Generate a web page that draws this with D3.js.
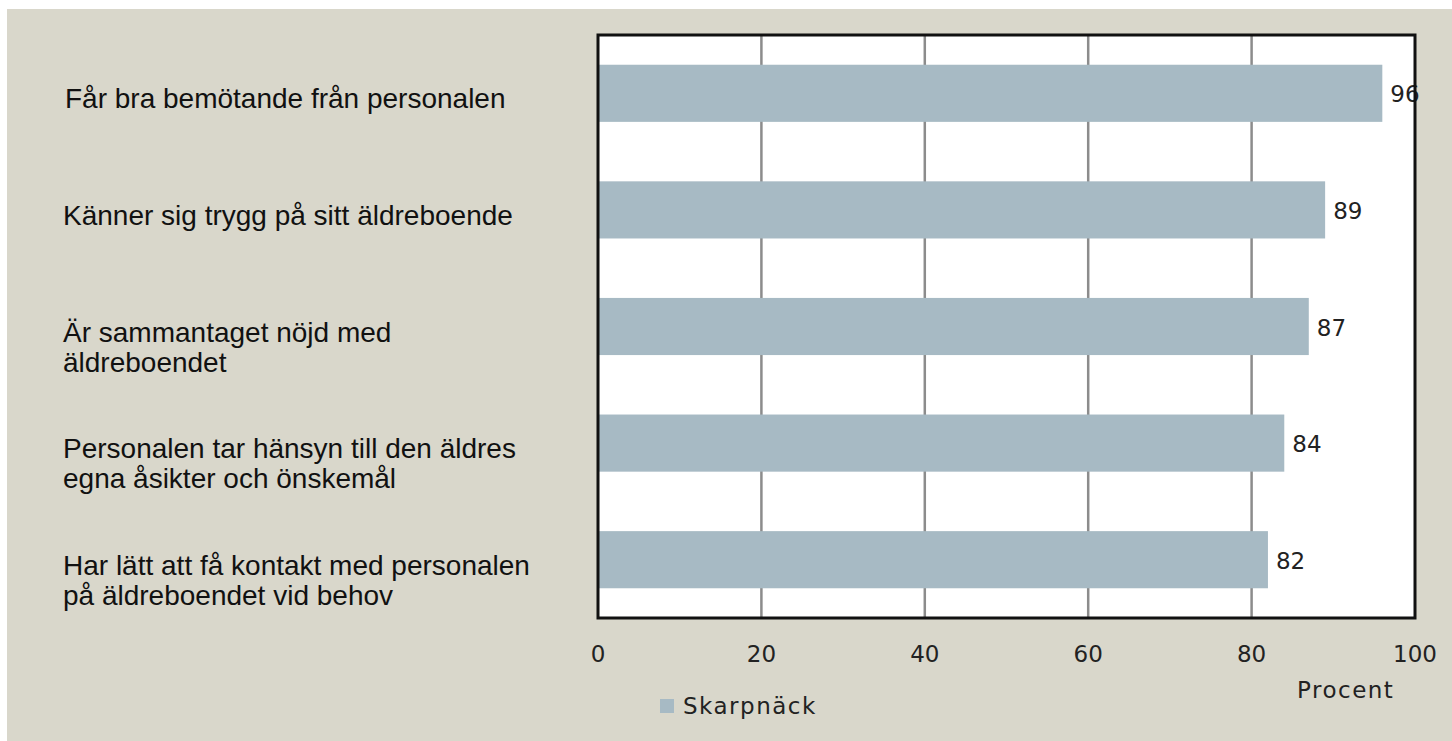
<!DOCTYPE html>
<html>
<head>
<meta charset="utf-8">
<script src="https://cdn.jsdelivr.net/npm/d3@7"></script>
<style>
  html, body { margin: 0; padding: 0; background: #fff; }
  svg { display: block; }
</style>
</head>
<body>
<div id="svg-container"></div>
<script>
// data
const categories = [
  ['Får bra bemötande från personalen'],
  ['Känner sig trygg på sitt äldreboende'],
  ['Är sammantaget nöjd med', 'äldreboendet'],
  ['Personalen tar hänsyn till den äldres', 'egna åsikter och önskemål'],
  ['Har lätt att få kontakt med personalen', 'på äldreboendet vid behov'],
]
const values = [96, 89, 87, 84, 82]
const xTicks = [0, 20, 40, 60, 80, 100]
const seriesName = 'Skarpnäck'
const axisTitle = 'Procent'

;(function () {
  const svgWidth = 1452
  const svgHeight = 741
  const plot = { left: 598, top: 35, right: 1415, bottom: 618 }

  const bgColor = '#d9d7cb'
  const barColor = '#a7bac4'
  const pixelFont = '"DejaVu Sans", sans-serif'
  const pixelSize = 23

  const svg = d3
    .select('#svg-container')
    .append('svg')
    .attr('width', svgWidth)
    .attr('height', svgHeight)

  svg
    .append('rect')
    .attr('x', 7)
    .attr('y', 9)
    .attr('width', svgWidth - 7)
    .attr('height', svgHeight - 9)
    .attr('fill', bgColor)

  const x = d3.scaleLinear().domain([0, 100]).range([plot.left, plot.right])
  const y = d3
    .scaleBand()
    .domain(d3.range(values.length))
    .range([plot.top, plot.bottom])
    .paddingInner(0.51)
    .paddingOuter(0.255)

  // plot area
  svg
    .append('rect')
    .attr('x', plot.left)
    .attr('y', plot.top)
    .attr('width', plot.right - plot.left)
    .attr('height', plot.bottom - plot.top)
    .attr('fill', '#fff')

  // vertical grid
  svg
    .append('g')
    .selectAll('line')
    .data(xTicks.slice(1, -1))
    .join('line')
    .attr('x1', d => x(d))
    .attr('x2', d => x(d))
    .attr('y1', plot.top)
    .attr('y2', plot.bottom)
    .attr('stroke', '#8c8c8c')
    .attr('stroke-width', 2.5)

  // bars
  svg
    .append('g')
    .selectAll('rect')
    .data(values)
    .join('rect')
    .attr('x', x(0))
    .attr('y', (d, i) => y(i))
    .attr('width', d => x(d) - x(0))
    .attr('height', y.bandwidth())
    .attr('fill', barColor)

  // value labels
  svg
    .append('g')
    .selectAll('text')
    .data(values)
    .join('text')
    .attr('x', d => x(d) + 8)
    .attr('y', (d, i) => y(i) + y.bandwidth() / 2 + 9)
    .attr('font-family', pixelFont)
    .attr('font-size', pixelSize)
    .attr('fill', '#222')
    .text(d => d)

  // frame
  svg
    .append('rect')
    .attr('x', plot.left)
    .attr('y', plot.top)
    .attr('width', plot.right - plot.left)
    .attr('height', plot.bottom - plot.top)
    .attr('fill', 'none')
    .attr('stroke', '#111')
    .attr('stroke-width', 3)

  // category labels
  const labels = svg
    .append('g')
    .attr('font-family', '"Liberation Sans", Arial, sans-serif')
    .attr('font-size', 28)
    .attr('fill', '#111')
    .selectAll('text')
    .data(categories)
    .join('text')
    .attr('x', (d, i) => (i === 0 ? 65 : 63))
    .attr('y', (d, i) => y(i) + y.bandwidth() / 2 + 15)

  labels
    .selectAll('tspan')
    .data(d => d)
    .join('tspan')
    .attr('x', function () {
      return this.parentNode.getAttribute('x')
    })
    .attr('dy', (d, i) => (i === 0 ? 0 : 30))
    .text(d => d)

  // x axis tick labels
  svg
    .append('g')
    .selectAll('text')
    .data(xTicks)
    .join('text')
    .attr('x', d => x(d))
    .attr('y', 662)
    .attr('text-anchor', 'middle')
    .attr('font-family', pixelFont)
    .attr('font-size', pixelSize)
    .attr('fill', '#222')
    .text(d => d)

  svg
    .append('text')
    .attr('x', 1297)
    .attr('y', 698)
    .attr('font-family', pixelFont)
    .attr('font-size', pixelSize)
    .attr('letter-spacing', 1.5)
    .attr('fill', '#222')
    .text(axisTitle)

  // legend
  svg
    .append('rect')
    .attr('x', 660)
    .attr('y', 699)
    .attr('width', 14)
    .attr('height', 14)
    .attr('fill', barColor)

  svg
    .append('text')
    .attr('x', 683)
    .attr('y', 714)
    .attr('font-family', pixelFont)
    .attr('font-size', pixelSize)
    .attr('letter-spacing', 1.5)
    .attr('fill', '#222')
    .text(seriesName)
})()
</script>
</body>
</html>
